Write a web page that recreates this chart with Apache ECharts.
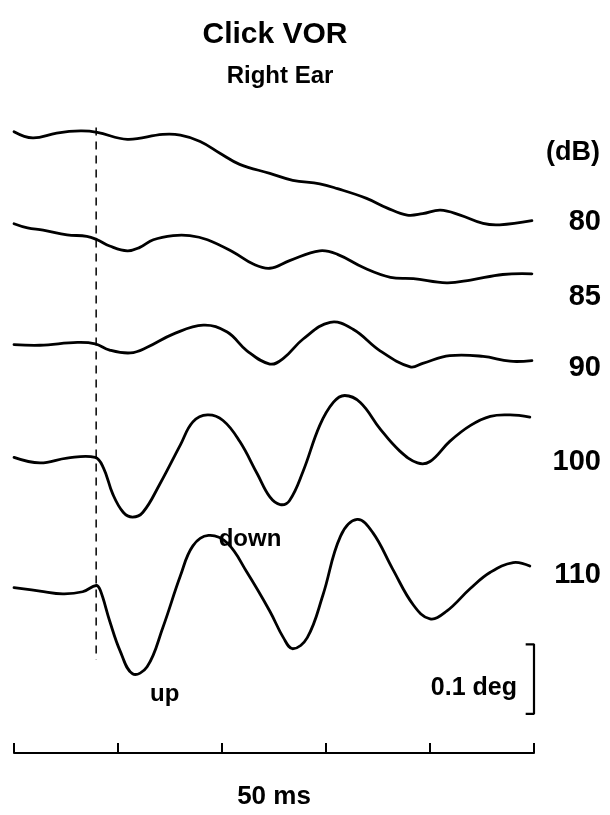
<!DOCTYPE html>
<html>
<head>
<meta charset="utf-8">
<script src="https://cdn.jsdelivr.net/npm/echarts@6/dist/echarts.min.js"></script>
<style>
  html, body { margin: 0; padding: 0; background: #fff; }
  #main { width: 610px; height: 815px; }
</style>
</head>
<body>
<div id="main"></div>
<script>
// 每条曲线: [时间 ms, 相对基线的位移 deg]
var trace80 = [[0,0],[1.8,-0.009],[4.1,-0.002],[6.4,0.001],[8.0,-0.001],[10.9,-0.011],[14.3,-0.004],[16.0,-0.005],[17.9,-0.014],[19.8,-0.031],[21.7,-0.047],[24.6,-0.060],[26.8,-0.070],[29.4,-0.075],[31.1,-0.082],[33.9,-0.096],[35.9,-0.110],[37.8,-0.120],[39.3,-0.118],[41.0,-0.113],[42.9,-0.120],[45.1,-0.132],[46.7,-0.134],[49.8,-0.128]];
var trace85 = [[0,0],[1.3,-0.006],[2.8,-0.009],[5.1,-0.016],[7.0,-0.018],[8.0,-0.023],[9.2,-0.032],[10.9,-0.039],[12.1,-0.034],[13.4,-0.023],[15.3,-0.017],[16.9,-0.017],[18.6,-0.023],[21.1,-0.041],[23.0,-0.058],[24.6,-0.064],[26.5,-0.053],[29.4,-0.039],[31.1,-0.044],[33.6,-0.063],[36.2,-0.077],[38.4,-0.079],[41.6,-0.085],[43.9,-0.081],[47.0,-0.073],[49.8,-0.072]];
var trace90 = [[0,0],[2.5,-0.001],[6.1,0.003],[7.8,0.001],[9.2,-0.008],[11.2,-0.012],[12.8,-0.004],[15.3,0.015],[18.2,0.028],[20.5,0.018],[22.4,-0.009],[24.6,-0.028],[25.9,-0.020],[27.8,0.008],[30.4,0.032],[32.6,0.022],[35.2,-0.009],[38.1,-0.032],[39.3,-0.027],[41.9,-0.016],[45.1,-0.017],[47.7,-0.024],[49.8,-0.023]];
var trace100 = [[0,0],[2.5,-0.008],[5.1,-0.001],[7.8,0],[8.6,-0.015],[9.5,-0.053],[10.5,-0.079],[11.4,-0.086],[12.4,-0.079],[14.0,-0.039],[16.0,0.018],[17.2,0.051],[18.6,0.061],[20.1,0.053],[21.7,0.023],[23.4,-0.024],[24.6,-0.057],[25.6,-0.068],[26.5,-0.062],[27.8,-0.020],[29.4,0.046],[30.7,0.079],[31.8,0.089],[33.3,0.079],[35.2,0.041],[37.1,0.009],[38.8,-0.008],[40.0,-0.006],[41.9,0.023],[43.9,0.046],[45.8,0.059],[47.7,0.061],[49.6,0.058]];
var trace110 = [[0,0],[2.5,-0.005],[4.7,-0.009],[6.6,-0.006],[7.9,0.003],[8.3,-0.004],[9.2,-0.048],[10.2,-0.091],[11.4,-0.124],[12.8,-0.114],[14.3,-0.058],[16.0,0.017],[17.2,0.060],[18.7,0.075],[20.5,0.064],[22.4,0.022],[24.6,-0.034],[25.9,-0.072],[26.8,-0.088],[28.2,-0.072],[29.7,-0.011],[31.4,0.074],[33.0,0.098],[34.5,0.079],[36.4,0.027],[38.4,-0.025],[40.0,-0.045],[41.6,-0.034],[43.9,-0.001],[45.8,0.022],[48.0,0.036],[49.6,0.031]];
var traces = [trace80, trace85, trace90, trace100, trace110];
var levels = ['80', '85', '90', '100', '110'];
// 每条曲线的基线位置 (deg)
var offsets = [-0.106, -0.2385, -0.4123, -0.5746, -0.762];
// 刺激时刻 (虚线)
var clickTime = 7.9;
var clickSpan = [-0.10, -0.866];
// 0.1 deg 比例尺
var scaleBarX = [49.2, 50, 50, 49.2];
var scaleBarY = [-0.8437, -0.8437, -0.9437, -0.9437];

var myChart = echarts.init(document.getElementById('main'));
var font = "'Liberation Sans', Arial, sans-serif";

// 整条曲线一次画出 (平滑不截顶)
function drawTrace(params, api) {
    if (params.dataIndex !== 0) {
        return null;
    }
    var n = params.dataInsideLength || 0;
    var points = [];
    for (var k = 0; ; k++) {
        var x = api.value(0, k);
        if (x === undefined || x === null || isNaN(x)) break;
        points.push(api.coord([x, api.value(1, k)]));
    }
    return {
        type: 'polyline',
        shape: {points: points, smooth: 0.4},
        style: {stroke: '#000', lineWidth: 2.8, fill: null, lineJoin: 'round', lineCap: 'round'},
        silent: true
    };
}

var series = [];
for (var i = 0; i < traces.length; i++) {
    var pts = [];
    for (var j = 0; j < traces[i].length; j++) {
        pts.push([traces[i][j][0], traces[i][j][1] + offsets[i]]);
    }
    series.push({
        name: levels[i] + ' dB',
        type: 'custom',
        renderItem: drawTrace,
        data: pts,
        clip: false,
        silent: true
    });
}
series.push({
    type: 'line',
    data: [[clickTime, clickSpan[0]], [clickTime, clickSpan[1]]],
    symbol: 'none',
    lineStyle: {color: '#000', width: 1.5, type: [8, 6]},
    silent: true
});
var bar = [];
for (var k = 0; k < scaleBarX.length; k++) {
    bar.push([scaleBarX[k], scaleBarY[k]]);
}
series.push({
    type: 'line',
    data: bar,
    symbol: 'none',
    lineStyle: {color: '#000', width: 2.2},
    silent: true
});

// 文字
var labelY = [222, 297, 368, 462, 575];
var graphics = [
    {type: 'text', style: {text: 'Click VOR', x: 275, y: 35, font: 'bold 30px ' + font, fill: '#000', align: 'center', verticalAlign: 'middle'}},
    {type: 'text', style: {text: 'Right Ear', x: 280, y: 76, font: 'bold 24px ' + font, fill: '#000', align: 'center', verticalAlign: 'middle'}},
    {type: 'text', style: {text: '(dB)', x: 600, y: 153, font: 'bold 27px ' + font, fill: '#000', align: 'right', verticalAlign: 'middle'}},
    {type: 'text', style: {text: 'down', x: 250, y: 539, font: 'bold 24px ' + font, fill: '#000', align: 'center', verticalAlign: 'middle'}},
    {type: 'text', style: {text: 'up', x: 150, y: 694, font: 'bold 24px ' + font, fill: '#000', align: 'left', verticalAlign: 'middle'}},
    {type: 'text', style: {text: '0.1 deg', x: 517, y: 688, font: 'bold 25px ' + font, fill: '#000', align: 'right', verticalAlign: 'middle'}}
];
for (var m = 0; m < levels.length; m++) {
    graphics.push({type: 'text', style: {text: levels[m], x: 601, y: labelY[m], font: 'bold 29px ' + font, fill: '#000', align: 'right', verticalAlign: 'middle'}});
}

myChart.setOption({
    animation: false,
    backgroundColor: '#fff',
    grid: {left: 14, right: 76, top: 58, bottom: 47},
    xAxis: {
        type: 'value',
        min: 0,
        max: 50,
        interval: 10,
        name: '50 ms',
        nameLocation: 'middle',
        nameGap: 31,
        nameTextStyle: {color: '#000', fontSize: 26, fontWeight: 'bold', fontFamily: font},
        axisLine: {show: true, onZero: false, lineStyle: {color: '#000', width: 2}},
        axisTick: {show: true, inside: true, length: 10, lineStyle: {color: '#000', width: 2}},
        axisLabel: {show: false},
        splitLine: {show: false}
    },
    yAxis: {
        type: 'value',
        min: -1,
        max: 0,
        show: false
    },
    graphic: graphics,
    series: series
});
</script>
</body>
</html>
